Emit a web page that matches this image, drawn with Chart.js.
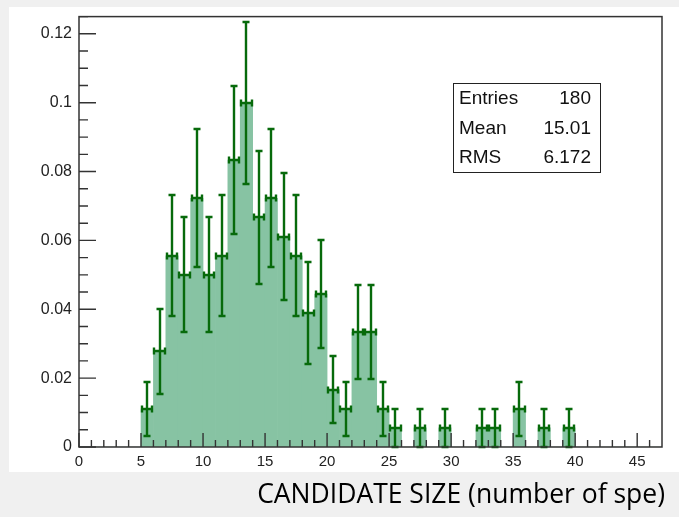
<!DOCTYPE html>
<html>
<head>
<meta charset="utf-8">
<script src="https://cdn.jsdelivr.net/npm/chart.js@4/dist/chart.umd.min.js"></script>
<style>
  html, body { margin: 0; padding: 0; background: #f0f0f0; }
  #wrap { width: 679px; height: 517px; }
</style>
</head>
<body>
<div id="wrap"><canvas id="sizeChart" width="679" height="517"></canvas></div>
<script>
// lower edge of each unit-wide bin
const binLow = [
  0, 1, 2, 3, 4, 5, 6, 7, 8, 9, 10, 11, 12, 13, 14, 15, 16, 17, 18, 19, 20, 21,
  22, 23, 24, 25, 26, 27, 28, 29, 30, 31, 32, 33, 34, 35, 36, 37, 38, 39, 40,
  41, 42, 43, 44, 45, 46,
];
// candidates per bin
const binCounts = [
  0, 0, 0, 0, 0, 2, 5, 10, 9, 13, 9, 10, 15, 18, 12, 13, 11, 10, 7, 8, 3, 2,
  6, 6, 2, 1, 0, 1, 0, 1, 0, 0, 1, 1, 0, 2, 0, 1, 0, 1, 0,
  0, 0, 0, 0, 0, 0,
];
const xTicks = [0, 5, 10, 15, 20, 25, 30, 35, 40, 45];
const yTicks = [0, 0.02, 0.04, 0.06, 0.08, 0.1, 0.12];

const ENTRIES = 180;
const statsRows = [
  ["Entries", "180"],
  ["Mean", "15.01"],
  ["RMS", "6.172"],
];
const xTitle = "CANDIDATE SIZE (number of spe)";

const fillColor = "#87c3a3";
const errColor = "#076a0b";
const axisColor = "#333333";

// histogram is normalised to unit area
const histPoints = binLow.map((lo, i) => ({
  x: lo + 0.5,
  y: binCounts[i] / ENTRIES,
  err: Math.sqrt(binCounts[i]) / ENTRIES,
}));

const pagePanel = {
  id: "pagePanel",
  beforeDraw(chart) {
    const c = chart.ctx;
    c.save();
    c.fillStyle = "#f0f0f0";
    c.fillRect(0, 0, chart.width, chart.height);
    c.fillStyle = "#ffffff";
    c.fillRect(9, 7, chart.width - 9, 465);
    c.restore();
  },
};

const errorBars = {
  id: "errorBars",
  afterDatasetsDraw(chart) {
    const c = chart.ctx;
    const xs = chart.scales.x;
    const ys = chart.scales.y;
    const r = Math.round;
    c.save();
    c.strokeStyle = errColor;
    c.lineWidth = 2.4;
    c.lineCap = "butt";
    histPoints.forEach((p) => {
      if (p.y <= 0) return;
      const xl = r(xs.getPixelForValue(p.x - 0.5)) + 1;
      const xr = r(xs.getPixelForValue(p.x + 0.5)) - 1;
      const xc = r(xs.getPixelForValue(p.x));
      const yc = r(ys.getPixelForValue(p.y));
      const yt = r(ys.getPixelForValue(p.y + p.err));
      const yb = r(ys.getPixelForValue(p.y - p.err));
      c.beginPath();
      // vertical error with caps
      c.moveTo(xc, yt);
      c.lineTo(xc, yb);
      c.moveTo(xc - 3.5, yt);
      c.lineTo(xc + 3.5, yt);
      c.moveTo(xc - 3.5, yb);
      c.lineTo(xc + 3.5, yb);
      // bin width with caps
      c.moveTo(xl, yc);
      c.lineTo(xr, yc);
      c.moveTo(xl, yc - 3.5);
      c.lineTo(xl, yc + 3.5);
      c.moveTo(xr, yc - 3.5);
      c.lineTo(xr, yc + 3.5);
      c.stroke();
    });
    c.restore();
  },
};

const frameAndTicks = {
  id: "frameAndTicks",
  afterDraw(chart) {
    const c = chart.ctx;
    const a = chart.chartArea;
    const xs = chart.scales.x;
    const ys = chart.scales.y;
    c.save();
    c.strokeStyle = axisColor;
    c.lineWidth = 1.5;
    c.strokeRect(a.left, a.top, a.right - a.left, a.bottom - a.top);

    c.lineWidth = 1.4;
    c.beginPath();
    for (let v = 0; v < xs.max; v++) {
      const px = xs.getPixelForValue(v);
      const len = v % 5 === 0 ? 14 : 7;
      c.moveTo(px, a.bottom);
      c.lineTo(px, a.bottom - len);
    }
    for (let k = 0; k * 0.005 <= ys.max + 1e-9; k++) {
      const py = ys.getPixelForValue(k * 0.005);
      const len = k % 4 === 0 ? 17 : 9;
      c.moveTo(a.left, py);
      c.lineTo(a.left + len, py);
    }
    c.stroke();

    // statistics box
    c.fillStyle = "#ffffff";
    c.fillRect(453, 83, 147, 89);
    c.strokeStyle = "#222222";
    c.lineWidth = 1;
    c.strokeRect(453.5, 83.5, 147, 89);
    c.fillStyle = "#111111";
    c.font = '19px "Liberation Sans", Arial, sans-serif';
    c.textBaseline = "middle";
    statsRows.forEach((row, i) => {
      const y = 99 + i * 29.5;
      c.textAlign = "left";
      c.fillText(row[0], 459, y);
      c.textAlign = "right";
      c.fillText(row[1], 591, y);
    });

    // axis caption below the panel
    c.fillStyle = "#000000";
    c.font = '26.5px "Open Sans", sans-serif';
    c.textAlign = "right";
    c.textBaseline = "alphabetic";
    c.fillText(xTitle, 665, 503);
    c.restore();
  },
};

const ctx = document.getElementById("sizeChart").getContext("2d");

const sizeChart = new Chart(ctx, {
  type: "bar",
  data: {
    datasets: [
      {
        label: "candidates",
        data: histPoints,
        backgroundColor: fillColor,
        borderWidth: 0,
        barPercentage: 1,
        categoryPercentage: 1,
        grouped: false,
      },
    ],
  },
  options: {
    responsive: false,
    animation: false,
    layout: {
      padding: { left: 0, right: 17, top: 10, bottom: 45 },
    },
    plugins: {
      legend: { display: false },
      title: { display: false },
      tooltip: { enabled: false },
    },
    scales: {
      x: {
        type: "linear",
        min: 0,
        max: 47,
        offset: false,
        grid: { display: false, drawTicks: false },
        border: { display: false },
        afterBuildTicks: (scale) => {
          scale.ticks = xTicks.map((v) => ({ value: v }));
        },
        afterFit: (scale) => {
          scale.height = 25;
        },
        ticks: {
          padding: 6,
          maxRotation: 0,
          autoSkip: false,
          color: "#222222",
          font: { family: "Liberation Sans", size: 15 },
        },
      },
      y: {
        min: 0,
        max: 0.125,
        grid: { display: false, drawTicks: false },
        border: { display: false },
        afterBuildTicks: (scale) => {
          scale.ticks = yTicks.map((v) => ({ value: v }));
        },
        afterFit: (scale) => {
          scale.width = 79;
        },
        ticks: {
          padding: 7,
          autoSkip: false,
          color: "#222222",
          font: { family: "Liberation Sans", size: 16 },
          callback: (v) => (v === 0 ? "0" : String(+v.toFixed(2))),
        },
      },
    },
  },
  plugins: [pagePanel, errorBars, frameAndTicks],
});
</script>
</body>
</html>
